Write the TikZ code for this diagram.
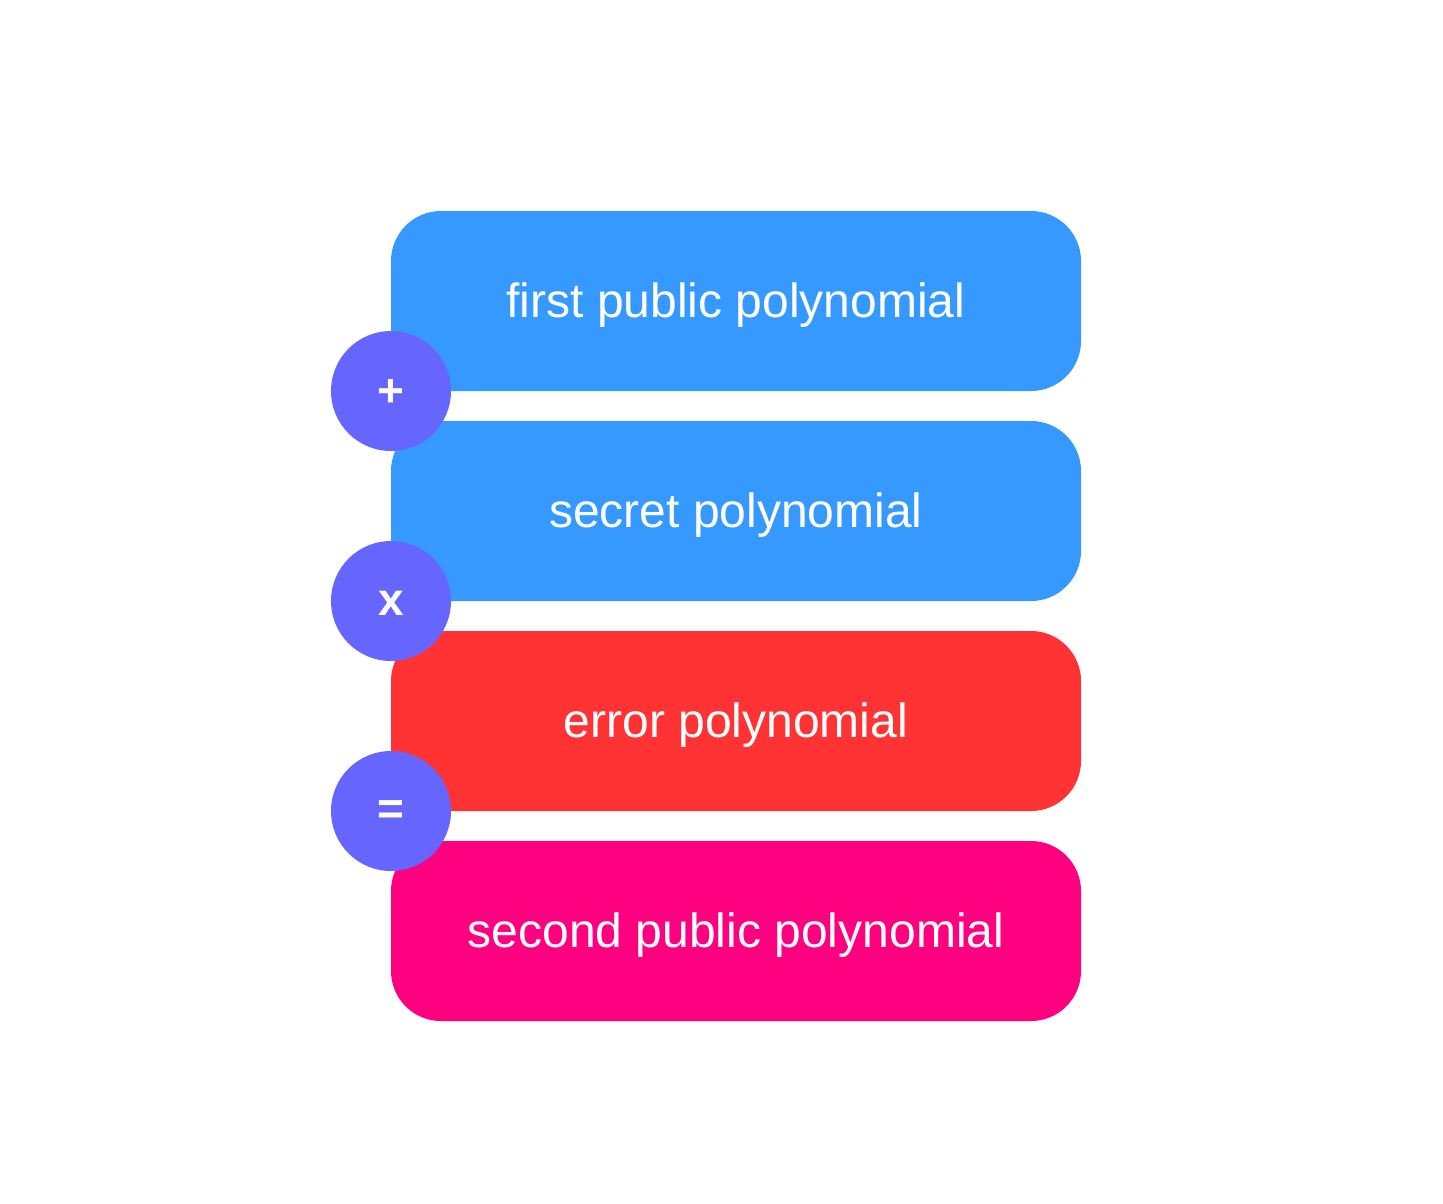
\documentclass[tikz,border=0pt]{standalone}
\usepackage{fontspec}
\setmainfont{Liberation Sans}
\definecolor{pubblue}{HTML}{3699FF}
\definecolor{errred}{HTML}{FF3333}
\definecolor{respink}{HTML}{FF0080}
\definecolor{opviolet}{HTML}{6666FF}
\begin{document}
\begin{tikzpicture}[x=1pt,y=-1pt,
  polybox/.style={rectangle, rounded corners=50pt, minimum width=690pt,
    minimum height=180pt, inner sep=0pt, text=white,
    font=\fontsize{48}{52}\selectfont},
  boxlabel/.style={text=white, inner sep=0pt, font=\fontsize{48}{52}\selectfont},
  opdisc/.style={circle, fill=opviolet, minimum size=120pt, inner sep=0pt},
  oplabel/.style={text=white, inner sep=0pt, font=\bfseries\fontsize{46}{48}\selectfont}]
\useasboundingbox (0,0) rectangle (1443,1203);
\fill[white] (0,0) rectangle (1443,1203);
% operand boxes
\node[polybox, fill=pubblue] (first) at (736,301) {};
\node[polybox, fill=pubblue] (secret) at (736,511) {};
\node[polybox, fill=errred] (error) at (736,721) {};
\node[polybox, fill=respink] (second) at (736,931) {};
\node[boxlabel] (firstlbl) at ([yshift=-4pt]first.center) {first public polynomial};
\node[boxlabel] (secretlbl) at ([yshift=-4pt]secret.center) {secret polynomial};
\node[boxlabel] (errorlbl) at ([yshift=-4pt]error.center) {error polynomial};
\node[boxlabel] (secondlbl) at ([yshift=-4pt]second.center) {second public polynomial};
% operators between the boxes
\node[opdisc] (plus) at (391,391) {};
\node[opdisc] (times) at (391,601) {};
\node[opdisc] (equals) at (391,811) {};
\node[oplabel] (pluslbl) at ([yshift=-2pt]plus.center) {+};
\node[oplabel] (timeslbl) at ([yshift=-2pt]times.center) {x};
\node[oplabel] (equalslbl) at ([yshift=-2pt]equals.center) {=};
\end{tikzpicture}
\end{document}
